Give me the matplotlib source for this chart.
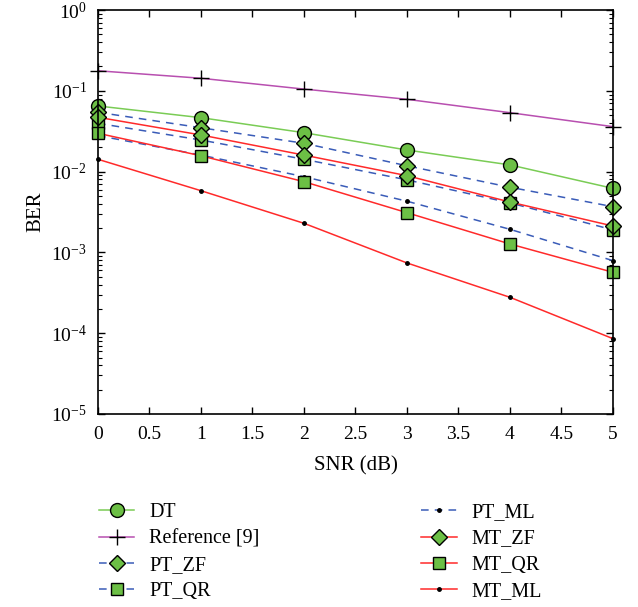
import matplotlib
matplotlib.use("Agg")
import matplotlib.pyplot as plt

plt.rcParams['font.family'] = ['Liberation Serif', 'DejaVu Serif']
plt.rcParams['mathtext.fontset'] = 'stix'

snr = [0, 1, 2, 3, 4, 5]
ber_dt = [0.0649, 0.0465, 0.0303, 0.0185, 0.0121, 0.0062]
ber_ref = [0.177, 0.143, 0.105, 0.0785, 0.0536, 0.036]
ber_pt_zf = [0.0542, 0.0349, 0.0224, 0.0118, 0.0064, 0.00368]
ber_pt_qr = [0.0396, 0.0246, 0.0142, 0.0079, 0.0041, 0.0019]
ber_pt_ml = [0.0279, 0.016, 0.00865, 0.0043, 0.00193, 0.00079]
ber_mt_zf = [0.047, 0.0284, 0.016, 0.0089, 0.0042, 0.00212]
ber_mt_qr = [0.0298, 0.0157, 0.0075, 0.0031, 0.00127, 0.000567]
ber_mt_ml = [0.0142, 0.0058, 0.00229, 0.00074, 0.000278, 0.0000855]

green = '#6cbf45'
blue = '#3a5cb8'
red = '#ff2a2a'
purple = '#b84fb0'

fig = plt.figure(figsize=(6.38, 6.07), dpi=100)
ax = fig.add_axes([0.1536, 0.318, 0.8072, 0.6655])

mk = dict(markerfacecolor=green, markeredgecolor='black', markeredgewidth=1.0, clip_on=False)
dot = dict(marker='.', markersize=5, markerfacecolor='black', markeredgecolor='black', clip_on=False)
dash = (0, (5, 4))

h_dt, = ax.plot(snr, ber_dt, color='#7acc55', lw=1.1, marker='o', markersize=10, label='DT', **mk)
h_ref, = ax.plot(snr, ber_ref, color=purple, lw=1.1, marker='+', markersize=11, clip_on=False,
                 markeredgecolor='black', markeredgewidth=1.0, label='Reference [9]')
h_ptzf, = ax.plot(snr, ber_pt_zf, color=blue, lw=1.1, ls=dash, marker='D', markersize=8,
                  label='PT_ZF', **mk)
h_ptqr, = ax.plot(snr, ber_pt_qr, color=blue, lw=1.1, ls=dash, marker='s', markersize=8,
                  label='PT_QR', **mk)
h_ptml, = ax.plot(snr, ber_pt_ml, color=blue, lw=1.1, ls=dash, label='PT_ML', **dot)
h_mtzf, = ax.plot(snr, ber_mt_zf, color=red, lw=1.1, marker='D', markersize=8, label='MT_ZF', **mk)
h_mtqr, = ax.plot(snr, ber_mt_qr, color=red, lw=1.1, marker='s', markersize=8, label='MT_QR', **mk)
h_mtml, = ax.plot(snr, ber_mt_ml, color=red, lw=1.1, label='MT_ML', **dot)

ax.set_yscale('log')
ax.set_ylim(1e-5, 1)
ax.set_xlim(0, 5)
ax.set_xticks([0, 0.5, 1, 1.5, 2, 2.5, 3, 3.5, 4, 4.5, 5])
ax.set_xticklabels(['0', '0.5', '1', '1.5', '2', '2.5', '3', '3.5', '4', '4.5', '5'])
ax.tick_params(which='both', direction='in', top=True, right=True, labelsize=14)
ax.tick_params(axis='x', pad=9)
ax.tick_params(axis='y', pad=8)
ax.tick_params(which='major', length=5, width=1)
ax.tick_params(which='minor', length=3, width=0.8)
for s in ax.spines.values():
    s.set_linewidth(1.2)

ax.set_xlabel('SNR (dB)', fontsize=15, labelpad=9)
ax.set_ylabel('BER', fontsize=15, labelpad=4)

# two legend columns placed independently under the axes
leg_kw = dict(loc='upper left', frameon=False, fontsize=14.5,
              handlelength=1.75, labelspacing=0.36, handletextpad=0.75)
fig.legend(handles=[h_dt, h_ref, h_ptzf, h_ptqr], bbox_to_anchor=(0.127, 0.201), **leg_kw)
fig.legend(handles=[h_ptml, h_mtzf, h_mtqr, h_mtml], bbox_to_anchor=(0.632, 0.201), **leg_kw)

fig.savefig('out.png', dpi=100)
